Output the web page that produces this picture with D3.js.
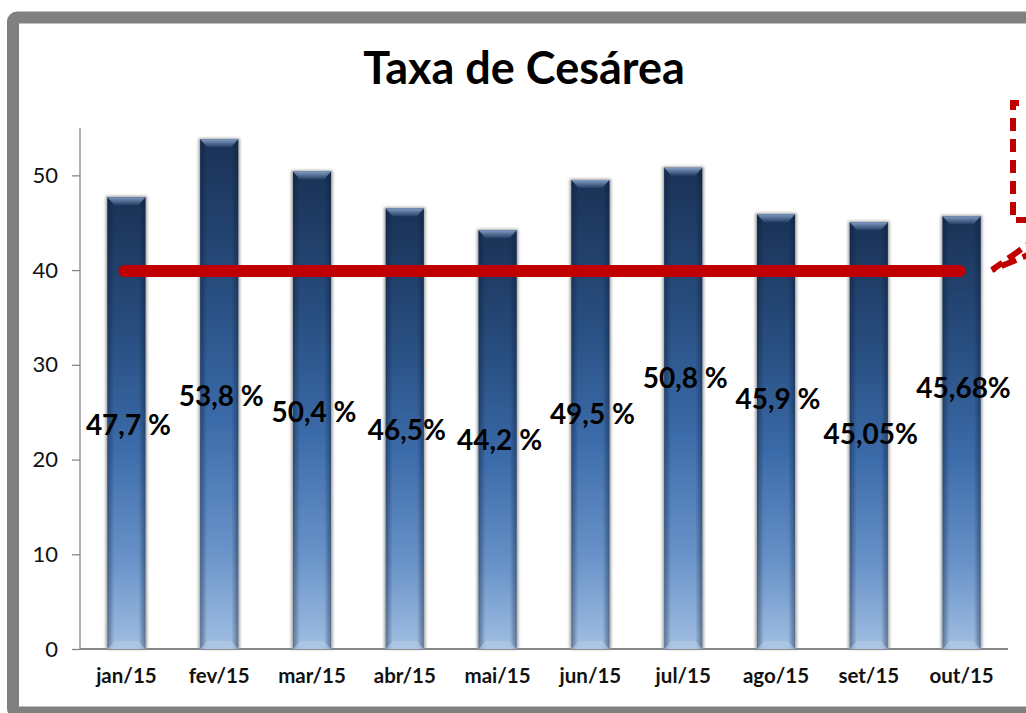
<!DOCTYPE html>
<html lang="pt">
<head>
<meta charset="utf-8">
<title>Taxa de Cesárea</title>
<script src="https://d3js.org/d3.v7.min.js"></script>
<style>
  body { margin: 0; background: #fff; }
  svg { display: block; font-family: Lato, "Open Sans", sans-serif; }
</style>
</head>
<body>
<div id="chart"></div>
<script>
// data
var months = ["jan/15", "fev/15", "mar/15", "abr/15", "mai/15", "jun/15", "jul/15", "ago/15", "set/15", "out/15"];
var rates = [47.7, 53.8, 50.4, 46.5, 44.2, 49.5, 50.8, 45.9, 45.05, 45.68];
var rateLabels = ["47,7 %", "53,8 %", "50,4 %", "46,5%", "44,2 %", "49,5 %", "50,8 %", "45,9 %", "45,05%", "45,68%"];
var target = 40;
var yTicks = [0, 10, 20, 30, 40, 50];

// where each label sits (axis units), placed by hand in the original
var labelLevels = [22.6, 25.6, 24.0, 22.1, 21.0, 23.7, 27.6, 25.3, 21.6, 26.5];

var W = 1026, H = 713;
var margin = {top: 128, left: 80, right: 18, bottom: 64};

var svg = d3.select("#chart").append("svg")
    .attr("width", W)
    .attr("height", H);

var defs = svg.append("defs");

var vg = defs.append("linearGradient").attr("id", "barFill")
    .attr("x1", 0).attr("y1", 0).attr("x2", 0).attr("y2", 1);
vg.append("stop").attr("offset", "0%").attr("stop-color", "#1a3256");
vg.append("stop").attr("offset", "30%").attr("stop-color", "#284e80");
vg.append("stop").attr("offset", "55%").attr("stop-color", "#3b6ba9");
vg.append("stop").attr("offset", "80%").attr("stop-color", "#6892c8");
vg.append("stop").attr("offset", "100%").attr("stop-color", "#a0bee2");

var hg = defs.append("linearGradient").attr("id", "barEdge")
    .attr("x1", 0).attr("y1", 0).attr("x2", 1).attr("y2", 0);
hg.append("stop").attr("offset", "0%").attr("stop-color", "#0a1a33").attr("stop-opacity", 0.45);
hg.append("stop").attr("offset", "18%").attr("stop-color", "#0a1a33").attr("stop-opacity", 0);
hg.append("stop").attr("offset", "82%").attr("stop-color", "#0a1a33").attr("stop-opacity", 0);
hg.append("stop").attr("offset", "100%").attr("stop-color", "#0a1a33").attr("stop-opacity", 0.45);

var bevel = defs.append("linearGradient").attr("id", "bevel")
    .attr("x1", 0).attr("y1", 0).attr("x2", 0).attr("y2", 1);
bevel.append("stop").attr("offset", "0%").attr("stop-color", "#7f9cc4");
bevel.append("stop").attr("offset", "100%").attr("stop-color", "#7f9cc4").attr("stop-opacity", 0.1);

defs.append("filter").attr("id", "shadow")
    .attr("x", "-30%").attr("y", "-5%").attr("width", "160%").attr("height", "110%")
    .append("feGaussianBlur").attr("stdDeviation", 1.6);

// frame
svg.append("rect")
    .attr("x", 13).attr("y", 17.5)
    .attr("width", 1200).attr("height", 695)
    .attr("rx", 4)
    .attr("fill", "#fff")
    .attr("stroke", "#808080")
    .attr("stroke-width", 12);

// title
svg.append("text")
    .attr("x", 524).attr("y", 84)
    .attr("text-anchor", "middle")
    .attr("font-size", 45)
    .attr("font-weight", "bold")
    .attr("fill", "#000")
    .text("Taxa de Cesárea");

var x = d3.scaleBand()
    .domain(months)
    .range([margin.left, W - margin.right])
    .paddingInner(0.59)
    .paddingOuter(0.295);

var y = d3.scaleLinear()
    .domain([0, 55])
    .range([H - margin.bottom, margin.top]);

// axes
var yAxis = svg.append("g")
    .attr("transform", "translate(" + margin.left + ",0)")
    .call(d3.axisLeft(y).tickValues(yTicks).tickSize(8).tickPadding(14));
yAxis.select(".domain").attr("stroke", "#868686").attr("stroke-width", 1.3).attr("d", "M0," + y(55) + "V" + y(0));
yAxis.selectAll(".tick line").attr("stroke", "#868686").attr("stroke-width", 1.3);
yAxis.selectAll(".tick text")
    .attr("font-size", 22)
    .attr("font-family", "Lato, sans-serif")
    .attr("fill", "#111");

var xAxis = svg.append("g")
    .attr("transform", "translate(0," + y(0) + ")")
    .call(d3.axisBottom(x).tickSize(0).tickPadding(19));
xAxis.select(".domain").attr("stroke", "#868686").attr("stroke-width", 2)
    .attr("d", "M" + margin.left + ",0H" + (W - margin.right));
xAxis.selectAll(".tick text")
    .attr("font-size", 20.5)
    .attr("font-weight", "bold")
    .attr("font-family", "Lato, sans-serif")
    .attr("fill", "#111")
    .attr("dy", "0.71em");

// bars
var bars = svg.append("g").selectAll("g")
    .data(rates)
    .join("g");

bars.append("rect")
    .attr("x", function(d, i) { return x(months[i]) - 1.5; })
    .attr("y", function(d) { return y(d) - 1; })
    .attr("width", x.bandwidth() + 3)
    .attr("height", function(d) { return y(0) - y(d) + 1; })
    .attr("fill", "#9a9a9a")
    .attr("filter", "url(#shadow)");

bars.append("rect")
    .attr("x", function(d, i) { return x(months[i]); })
    .attr("y", function(d) { return y(d); })
    .attr("width", x.bandwidth())
    .attr("height", function(d) { return y(0) - y(d); })
    .attr("fill", "url(#barFill)");

bars.append("rect")
    .attr("x", function(d, i) { return x(months[i]); })
    .attr("y", function(d) { return y(d); })
    .attr("width", x.bandwidth())
    .attr("height", function(d) { return y(0) - y(d); })
    .attr("fill", "url(#barEdge)");

// top bevel
bars.append("path")
    .attr("d", function(d, i) {
        var x0 = x(months[i]), x1 = x0 + x.bandwidth(), t = y(d);
        return "M" + x0 + "," + t + "H" + x1 + "L" + (x1 - 7) + "," + (t + 8) + "H" + (x0 + 7) + "Z";
    })
    .attr("fill", "url(#bevel)");

// bottom bevel
bars.append("path")
    .attr("d", function(d, i) {
        var x0 = x(months[i]), x1 = x0 + x.bandwidth(), b = y(0);
        return "M" + x0 + "," + b + "H" + x1 + "L" + (x1 - 7) + "," + (b - 8) + "H" + (x0 + 7) + "Z";
    })
    .attr("fill", "#b4cbe8")
    .attr("opacity", 0.6);

// target line
svg.append("line")
    .attr("x1", x(months[0]) + x.bandwidth() / 2 - 2)
    .attr("x2", x(months[months.length - 1]) + x.bandwidth() / 2 - 2)
    .attr("y1", y(target) + 1)
    .attr("y2", y(target) + 1)
    .attr("stroke", "#c00000")
    .attr("stroke-width", 12)
    .attr("stroke-linecap", "round");

// value labels
svg.append("g").selectAll("text")
    .data(rateLabels)
    .join("text")
    .attr("x", function(d, i) { return x(months[i]) + x.bandwidth() / 2 + 2; })
    .attr("y", function(d, i) { return y(labelLevels[i]); })
    .attr("text-anchor", "middle")
    .attr("font-size", 28)
    .attr("font-weight", "bold")
    .attr("fill", "#000")
    .text(function(d) { return d; });

// callout (cut off at the right edge)
var callout = svg.append("g")
    .attr("fill", "none")
    .attr("stroke", "#c00000")
    .attr("stroke-width", 6)
    .attr("stroke-dasharray", "13,8");
callout.append("path").attr("d", "M1040,103H1013V220H1040");
callout.append("path").attr("d", "M1040,236L992,270L1040,250").attr("stroke-dasharray", "16,7");
</script>
</body>
</html>
